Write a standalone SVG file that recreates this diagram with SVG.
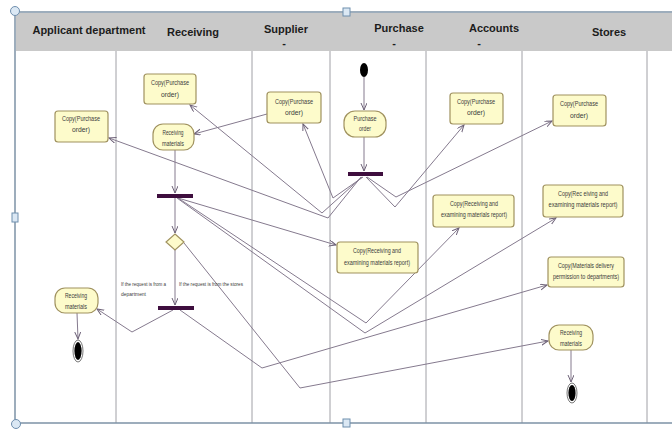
<svg xmlns="http://www.w3.org/2000/svg" width="672" height="430" viewBox="0 0 672 430">
  <style>
    .bg { fill: #ffffff; }
    .hdr { fill: #c9c9c9; }
    .lane { stroke: #a0a0a6; stroke-width: 1; }
    .frame { fill: none; stroke: #7e93a6; stroke-width: 1.5; }
    .handle { fill: #dbe8f4; stroke: #6f8fae; stroke-width: 1; }
    .h { font-family: "Liberation Sans", Arial, sans-serif; font-weight: bold; font-size: 11px; fill: #1c1c1c; text-anchor: middle; }
    .box { fill: #fdfbcb; stroke: #a0925f; stroke-width: 1.2; }
    .t { font-family: "Liberation Sans", Arial, sans-serif; font-size: 7.5px; fill: #3b3b3b; text-anchor: middle; }
    .lbl { font-family: "Liberation Sans", Arial, sans-serif; font-size: 5.5px; fill: #3b3b3b; }
    .bar { fill: #3e0e3e; }
    .edge { fill: none; stroke: #857a8e; stroke-width: 1; marker-end: url(#arr); }
  </style>
  <defs>
    <marker id="arr" markerUnits="userSpaceOnUse" markerWidth="9" markerHeight="8" refX="7" refY="3" orient="auto">
      <path d="M0,0 L7,3 L0,6" fill="none" stroke="#6e6278" stroke-width="1"/>
    </marker>
  </defs>

  <!-- canvas and swimlane header -->
  <rect class="bg" x="0" y="0" width="672" height="430"/>
  <rect class="hdr" x="16" y="13" width="656" height="38"/>
  <g id="lanes">
    <line class="lane" x1="116" y1="51" x2="116" y2="423"/>
    <line class="lane" x1="252" y1="51" x2="252" y2="423"/>
    <line class="lane" x1="330" y1="51" x2="330" y2="423"/>
    <line class="lane" x1="426" y1="51" x2="426" y2="423"/>
    <line class="lane" x1="522" y1="51" x2="522" y2="423"/>
    <line class="lane" x1="647" y1="51" x2="647" y2="423"/>
  </g>
  <g id="headers">
    <text class="h" x="89" y="34">Applicant  department</text>
    <text class="h" x="193" y="36">Receiving</text>
    <text class="h" x="286" y="33">Supplier</text>
    <text class="h" x="284" y="47">-</text>
    <text class="h" x="399" y="32">Purchase</text>
    <text class="h" x="394" y="47">-</text>
    <text class="h" x="494" y="32">Accounts</text>
    <text class="h" x="479" y="47">-</text>
    <text class="h" x="609" y="36">Stores</text>
  </g>

  <!-- selection frame -->
  <path class="frame" d="M672,12 L15,12 L15,423 L672,423"/>
  <circle class="handle" cx="15" cy="11" r="4.5"/>
  <circle class="handle" cx="16" cy="424" r="4.5"/>
  <rect class="handle" x="343" y="8" width="7" height="8"/>
  <rect class="handle" x="12" y="213" width="6" height="9"/>
  <rect class="handle" x="343" y="419" width="7" height="8"/>

  <!-- connectors -->
  <g id="connectors">
    <path class="edge" d="M364,77 L364,110"/>
    <path class="edge" d="M364,137 L364,171"/>
    <path class="edge" d="M362,177 L322,213 L190,105"/>
    <path class="edge" d="M361,177 L328,218 L109,138"/>
    <path class="edge" d="M363,177 L333,198 L303,124"/>
    <path class="edge" d="M366,177 L395,207 L464,125"/>
    <path class="edge" d="M367,177 L396,197 L552,121"/>
    <path class="edge" d="M267,114 L194,134"/>
    <path class="edge" d="M175,150 L175,193"/>
    <path class="edge" d="M175,198 L175,233"/>
    <path class="edge" d="M178,198 L336,245"/>
    <path class="edge" d="M178,198 L366,323 L459,228"/>
    <path class="edge" d="M177,198 L365,333 L556,218"/>
    <path class="edge" d="M175,250 L175,305"/>
    <path class="edge" d="M184,243 L300,388 L548,341"/>
    <path class="edge" d="M173,310 L132,332 L97,309"/>
    <path class="edge" d="M180,310 L262,368 L547,285"/>
    <path class="edge" d="M77,313 L78,339"/>
    <path class="edge" d="M571,350 L571,382"/>
  </g>

  <!-- Purchase lane -->
  <g id="start">
    <ellipse cx="364" cy="70" rx="4" ry="7" fill="#000"/>
  </g>
  <g id="purchase-order">
    <rect class="box" x="344" y="111" width="42" height="26" rx="11" ry="11"/>
    <text class="t" x="365" y="121" textLength="23" lengthAdjust="spacingAndGlyphs">Purchase</text>
    <text class="t" x="365" y="131" textLength="12" lengthAdjust="spacingAndGlyphs">order</text>
  </g>
  <g id="purchase-fork">
    <rect class="bar" x="348" y="172" width="35" height="4"/>
  </g>
  <g id="purchase-report-copy">
    <rect class="box" x="337" y="242" width="81" height="31" rx="3"/>
    <text class="t" x="377" y="253" textLength="48" lengthAdjust="spacingAndGlyphs">Copy(Receiving and</text>
    <text class="t" x="377" y="265" textLength="66" lengthAdjust="spacingAndGlyphs">examining materials report)</text>
  </g>

  <!-- Applicant department lane -->
  <g id="applicant-po-copy">
    <rect class="box" x="55" y="111" width="53" height="31" rx="3"/>
    <text class="t" x="81" y="121" textLength="38" lengthAdjust="spacingAndGlyphs">Copy(Purchase</text>
    <text class="t" x="81" y="132" textLength="18" lengthAdjust="spacingAndGlyphs">order)</text>
  </g>
  <g id="applicant-receiving">
    <rect class="box" x="55" y="288" width="43" height="25" rx="10" ry="10"/>
    <text class="t" x="76" y="298" textLength="22" lengthAdjust="spacingAndGlyphs">Receiving</text>
    <text class="t" x="76" y="309" textLength="22" lengthAdjust="spacingAndGlyphs">materials</text>
  </g>
  <g id="applicant-end">
    <ellipse cx="78" cy="351" rx="5" ry="11" fill="#fff" stroke="#555" stroke-width="0.8"/>
    <ellipse cx="78" cy="351" rx="3.6" ry="9" fill="#000"/>
  </g>

  <!-- Receiving lane -->
  <g id="receiving-po-copy">
    <rect class="box" x="144" y="74" width="52" height="30" rx="3"/>
    <text class="t" x="170" y="85" textLength="38" lengthAdjust="spacingAndGlyphs">Copy(Purchase</text>
    <text class="t" x="170" y="97" textLength="18" lengthAdjust="spacingAndGlyphs">order)</text>
  </g>
  <g id="receiving-materials">
    <rect class="box" x="153" y="124" width="41" height="26" rx="10" ry="10"/>
    <text class="t" x="173" y="135" textLength="21" lengthAdjust="spacingAndGlyphs">Receiving</text>
    <text class="t" x="173" y="146" textLength="22" lengthAdjust="spacingAndGlyphs">materials</text>
  </g>
  <g id="receiving-fork">
    <rect class="bar" x="157" y="194" width="36" height="4"/>
  </g>
  <g id="request-decision">
    <path class="box" d="M175,234 L184,242 L175,250 L166,242 Z"/>
  </g>
  <g id="guards">
    <text class="lbl" x="121" y="286" textLength="45" lengthAdjust="spacingAndGlyphs">If the request is from a</text>
    <text class="lbl" x="121" y="296" textLength="25" lengthAdjust="spacingAndGlyphs">department</text>
    <text class="lbl" x="179" y="286" textLength="64" lengthAdjust="spacingAndGlyphs">If the request is from the stores</text>
  </g>
  <g id="receiving-join">
    <rect class="bar" x="158" y="306" width="36" height="4"/>
  </g>

  <!-- Supplier lane -->
  <g id="supplier-po-copy">
    <rect class="box" x="267" y="92" width="54" height="31" rx="3"/>
    <text class="t" x="294" y="104" textLength="38" lengthAdjust="spacingAndGlyphs">Copy(Purchase</text>
    <text class="t" x="294" y="115" textLength="18" lengthAdjust="spacingAndGlyphs">order)</text>
  </g>

  <!-- Accounts lane -->
  <g id="accounts-po-copy">
    <rect class="box" x="450" y="93" width="53" height="31" rx="3"/>
    <text class="t" x="476" y="104" textLength="38" lengthAdjust="spacingAndGlyphs">Copy(Purchase</text>
    <text class="t" x="476" y="115" textLength="18" lengthAdjust="spacingAndGlyphs">order)</text>
  </g>
  <g id="accounts-report-copy">
    <rect class="box" x="433" y="195" width="81" height="32" rx="3"/>
    <text class="t" x="474" y="206" textLength="48" lengthAdjust="spacingAndGlyphs">Copy(Receiving and</text>
    <text class="t" x="474" y="217" textLength="66" lengthAdjust="spacingAndGlyphs">examining materials report)</text>
  </g>

  <!-- Stores lane -->
  <g id="stores-po-copy">
    <rect class="box" x="553" y="95" width="53" height="31" rx="3"/>
    <text class="t" x="579" y="106" textLength="38" lengthAdjust="spacingAndGlyphs">Copy(Purchase</text>
    <text class="t" x="579" y="118" textLength="18" lengthAdjust="spacingAndGlyphs">order)</text>
  </g>
  <g id="stores-report-copy">
    <rect class="box" x="543" y="185" width="80" height="32" rx="3"/>
    <text class="t" x="583" y="196" textLength="50" lengthAdjust="spacingAndGlyphs">Copy(Rec eiving and</text>
    <text class="t" x="583" y="207" textLength="69" lengthAdjust="spacingAndGlyphs">examining materials report)</text>
  </g>
  <g id="stores-delivery-copy">
    <rect class="box" x="548" y="257" width="76" height="30" rx="3"/>
    <text class="t" x="586" y="268" textLength="56" lengthAdjust="spacingAndGlyphs">Copy(Materials delivery</text>
    <text class="t" x="586" y="279" textLength="66" lengthAdjust="spacingAndGlyphs">permission to departments)</text>
  </g>
  <g id="stores-receiving">
    <rect class="box" x="549" y="325" width="44" height="25" rx="10" ry="10"/>
    <text class="t" x="571" y="335" textLength="22" lengthAdjust="spacingAndGlyphs">Receiving</text>
    <text class="t" x="571" y="346" textLength="22" lengthAdjust="spacingAndGlyphs">materials</text>
  </g>
  <g id="stores-end">
    <ellipse cx="572" cy="393" rx="5" ry="10" fill="#fff" stroke="#555" stroke-width="0.8"/>
    <ellipse cx="572" cy="393" rx="3.6" ry="8" fill="#000"/>
  </g>
</svg>
